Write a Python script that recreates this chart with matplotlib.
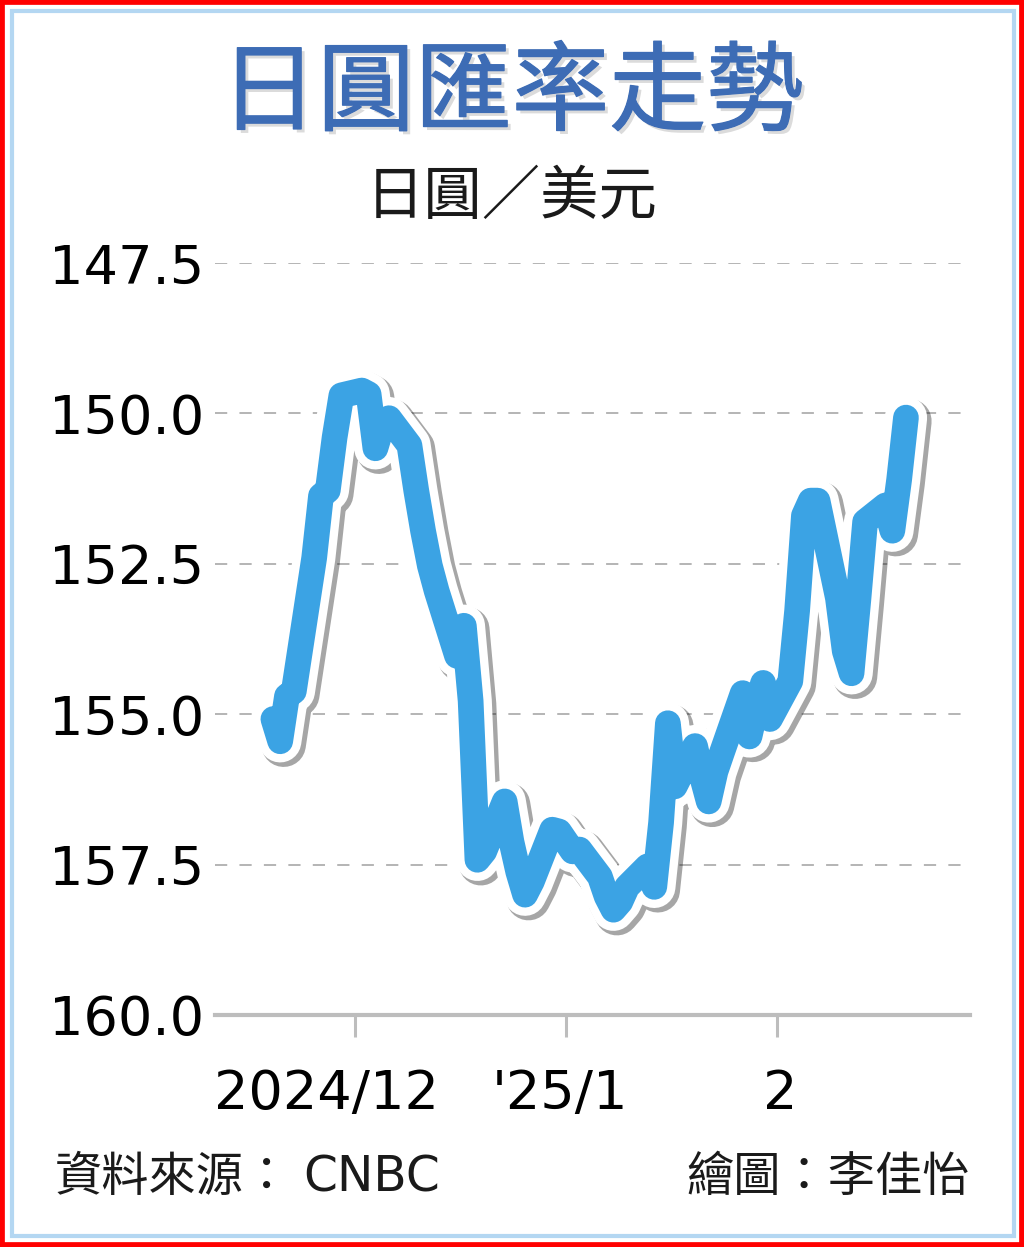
import matplotlib.pyplot as plt
import matplotlib.patheffects as pe
import matplotlib.transforms as mtransforms
from matplotlib.patches import Rectangle
import pandas as pd

plt.rcParams["font.family"] = ["DejaVu Sans", "Noto Sans CJK TC"]

# USD/JPY daily closes
dates = [
    "2024-11-19", "2024-11-20", "2024-11-21", "2024-11-22", "2024-11-25",
    "2024-11-26", "2024-11-27", "2024-11-28", "2024-11-29",
    "2024-12-02", "2024-12-03", "2024-12-04", "2024-12-05", "2024-12-06",
    "2024-12-09", "2024-12-10", "2024-12-11", "2024-12-12", "2024-12-13",
    "2024-12-16", "2024-12-17", "2024-12-18", "2024-12-19", "2024-12-20",
    "2024-12-23", "2024-12-24", "2024-12-25", "2024-12-26", "2024-12-27",
    "2024-12-30", "2024-12-31",
    "2025-01-02", "2025-01-03", "2025-01-06", "2025-01-07", "2025-01-08",
    "2025-01-09", "2025-01-10", "2025-01-13", "2025-01-14", "2025-01-15",
    "2025-01-16", "2025-01-17", "2025-01-20", "2025-01-21", "2025-01-22",
    "2025-01-23", "2025-01-24", "2025-01-27", "2025-01-28", "2025-01-29",
    "2025-01-30", "2025-01-31",
    "2025-02-03", "2025-02-04", "2025-02-05", "2025-02-06", "2025-02-07",
    "2025-02-10", "2025-02-11", "2025-02-12", "2025-02-13", "2025-02-14",
    "2025-02-17", "2025-02-18", "2025-02-19", "2025-02-20",
]
rates = [
    155.08, 155.45, 154.70, 154.62, 152.40,
    151.37, 151.28, 150.40, 149.70,
    149.62, 149.68, 150.58, 150.20, 150.08,
    150.53, 151.28, 151.95, 152.53, 152.95,
    154.03, 153.53, 154.78, 157.42, 157.28,
    156.45, 157.12, 157.62, 158.00, 157.78,
    156.92, 156.95,
    157.28, 157.25, 157.70, 158.03, 158.25,
    158.12, 157.87, 157.53, 157.87, 156.80,
    155.15, 156.20, 155.53, 156.03, 156.45,
    155.95, 155.62, 154.65, 155.37, 154.87,
    154.48, 155.08,
    154.45, 153.28, 151.70, 151.45, 151.45,
    153.07, 153.95, 154.32, 153.10, 151.80,
    151.53, 151.95, 151.10, 150.07,
]

yticks = [147.5, 150.0, 152.5, 155.0, 157.5, 160.0]
xtick_dates = ["2024-12-01", "2025-01-01", "2025-02-01"]
xtick_labels = ["2024/12", "'25/1", "2"]

W, H = 1024, 1247
fig = plt.figure(figsize=(W / 100, H / 100), dpi=100)
fig.patch.set_facecolor("white")

ax = fig.add_axes([215 / W, 1 - 1015 / H, (970 - 215) / W, (1015 - 263) / H])
ax.set_facecolor("none")

x = pd.to_datetime(dates)
line, = ax.plot(x, rates, color="#3BA3E4", lw=18.5, solid_capstyle="round",
                solid_joinstyle="round", clip_on=False, zorder=5)
line.set_path_effects([
    pe.SimpleLineShadow(offset=(2.5, -2.5), shadow_color="k", alpha=0.35, linewidth=32),
    pe.Stroke(linewidth=30.5, foreground="white"),
    pe.Normal(),
])

ax.set_ylim(160.0, 147.5)
ax.set_xlim(pd.Timestamp("2024-11-10 10:00"), pd.Timestamp("2025-03-01 10:00"))

ax.set_yticks(yticks)
ax.set_yticklabels([f"{v:.1f}" for v in yticks], fontsize=39)
ax.tick_params(axis="y", length=0, pad=8)
ax.yaxis.grid(True, color="#A0A0A0", lw=1.1, linestyle=(0, (8, 8)))
ax.set_axisbelow(True)

ax.set_xticks(pd.to_datetime(xtick_dates))
ax.set_xticklabels(xtick_labels, fontsize=39)
ax.tick_params(axis="x", length=16, width=2.2, color="#BDBDBD", pad=22)
for lab, dx in zip(ax.get_xticklabels(), [-29, -6, 3]):
    lab.set_transform(lab.get_transform() +
                      mtransforms.ScaledTranslation(dx / 100, 0, fig.dpi_scale_trans))

for side in ["top", "right", "left"]:
    ax.spines[side].set_visible(False)
ax.spines["bottom"].set_color("#BDBDBD")
ax.spines["bottom"].set_linewidth(3)

cjk = ["Noto Sans CJK TC", "DejaVu Sans"]
title_color = "#3D6CB5"
fig.text(512 / W, 1 - 95 / H, "日圓匯率走勢", family=cjk, fontsize=70,
         fontweight="normal", color=title_color, ha="center", va="center",
         path_effects=[
             pe.SimplePatchShadow(offset=(2.5, -2.5), shadow_rgbFace="#888888", alpha=0.3),
             pe.Stroke(linewidth=0.9, foreground=title_color),
             pe.Normal(),
         ])
fig.text(512 / W, 1 - 197 / H, "日圓／美元", family=cjk, fontsize=42,
         color="#1a1a1a", ha="center", va="center")

fig.text(55 / W, 1 - 1178 / H, "資料來源：", family=cjk, fontsize=34,
         color="#1a1a1a", ha="left", va="center")
fig.text(303 / W, 1 - 1178 / H, "CNBC", fontsize=35,
         color="#1a1a1a", ha="left", va="center")
fig.text(970 / W, 1 - 1178 / H, "繪圖：李佳怡", family=cjk, fontsize=34,
         color="#1a1a1a", ha="right", va="center")

# outer red border and light blue frame
fig.patches.append(Rectangle((0, 0), 1, 1, transform=fig.transFigure, fill=False,
                             edgecolor="#FF0000", lw=7))
fig.patches.append(Rectangle((12 / W, 11 / H), (1002) / W, (1225) / H,
                             transform=fig.transFigure, fill=False,
                             edgecolor="#B4D7F2", lw=3))

fig.savefig("out.png", dpi=100)
